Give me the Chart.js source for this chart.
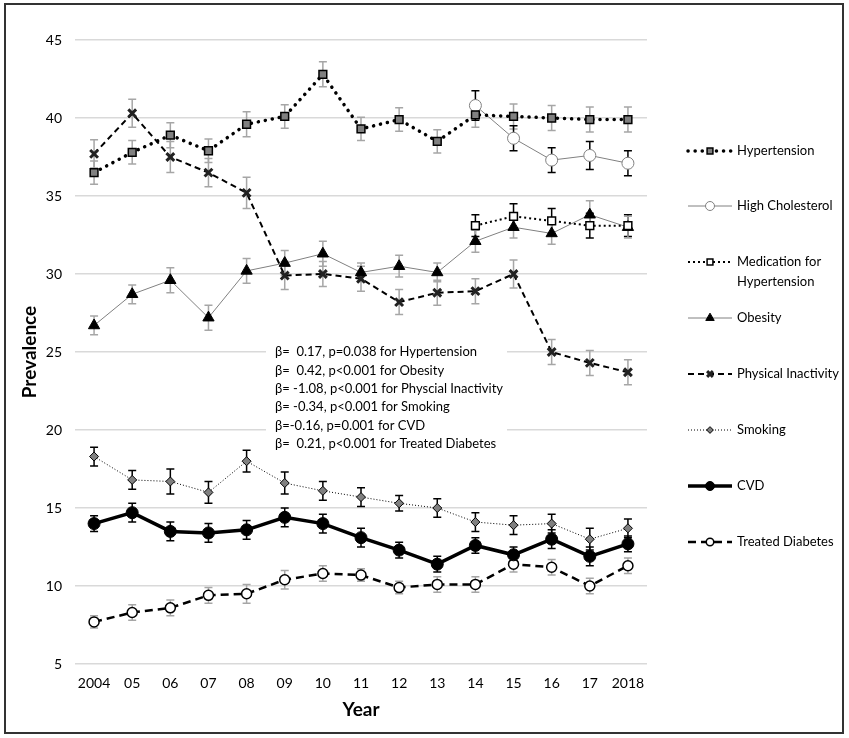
<!DOCTYPE html>
<html>
<head>
<meta charset="utf-8">
<script src="https://cdn.jsdelivr.net/npm/chart.js@4.4.1/dist/chart.umd.min.js"></script>
<style>
  html, body { margin: 0; padding: 0; background: #fff; }
  #wrap { width: 849px; height: 738px; position: relative; }
</style>
</head>
<body>
<div id="wrap"><canvas id="prevChart" width="849" height="738"></canvas></div>
<script>
// datos
const years = ['2004', '05', '06', '07', '08', '09', '10', '11', '12', '13', '14', '15', '16', '17', '2018'];
const yTicks = [5, 10, 15, 20, 25, 30, 35, 40, 45];

const hypertension    = [36.5, 37.8, 38.9, 37.9, 39.6, 40.1, 42.8, 39.3, 39.9, 38.5, 40.2, 40.1, 40.0, 39.9, 39.9];
const hypertensionErr = [0.75, 0.75, 0.8, 0.75, 0.8, 0.75, 0.8, 0.75, 0.75, 0.75, 0.8, 0.8, 0.8, 0.8, 0.8];
const cholesterol     = [null, null, null, null, null, null, null, null, null, null, 40.8, 38.7, 37.3, 37.6, 37.1];
const cholesterolErr  = [null, null, null, null, null, null, null, null, null, null, 0.95, 0.8, 0.8, 0.9, 0.8];
const medication      = [null, null, null, null, null, null, null, null, null, null, 33.1, 33.7, 33.4, 33.1, 33.1];
const medicationErr   = [null, null, null, null, null, null, null, null, null, null, 0.7, 0.8, 0.8, 0.8, 0.7];
const obesity         = [26.7, 28.7, 29.6, 27.2, 30.2, 30.7, 31.3, 30.1, 30.5, 30.1, 32.1, 33.0, 32.6, 33.8, 33.0];
const obesityErr      = [0.6, 0.6, 0.8, 0.8, 0.8, 0.8, 0.8, 0.6, 0.7, 0.6, 0.7, 0.7, 0.7, 0.9, 0.7];
const inactivity      = [37.7, 40.3, 37.5, 36.5, 35.2, 29.9, 30.0, 29.7, 28.2, 28.8, 28.9, 30.0, 25.0, 24.3, 23.7];
const inactivityErr   = [0.9, 0.9, 1.0, 0.9, 1.0, 0.9, 0.8, 0.8, 0.8, 0.8, 0.8, 0.9, 0.8, 0.8, 0.8];
const smoking         = [18.3, 16.8, 16.7, 16.0, 18.0, 16.6, 16.1, 15.7, 15.3, 15.0, 14.1, 13.9, 14.0, 13.0, 13.7];
const smokingErr      = [0.6, 0.6, 0.8, 0.7, 0.7, 0.7, 0.6, 0.6, 0.5, 0.6, 0.6, 0.6, 0.6, 0.7, 0.6];
const cvd             = [14.0, 14.7, 13.5, 13.4, 13.6, 14.4, 14.0, 13.1, 12.3, 11.4, 12.6, 12.0, 13.0, 11.9, 12.7];
const cvdErr          = [0.5, 0.6, 0.6, 0.6, 0.6, 0.6, 0.6, 0.6, 0.5, 0.5, 0.5, 0.5, 0.6, 0.6, 0.5];
const diabetes        = [7.7, 8.3, 8.6, 9.4, 9.5, 10.4, 10.8, 10.7, 9.9, 10.1, 10.1, 11.4, 11.2, 10.0, 11.3];
const diabetesErr     = [0.4, 0.5, 0.5, 0.5, 0.6, 0.6, 0.5, 0.4, 0.4, 0.5, 0.5, 0.5, 0.5, 0.5, 0.5];

const statsText = [
    'β=  0.17, p=0.038 for Hypertension',
    'β=  0.42, p<0.001 for Obesity',
    'β= -1.08, p<0.001 for Physcial Inactivity',
    'β= -0.34, p<0.001 for Smoking',
    'β=-0.16, p=0.001 for CVD',
    'β=  0.21, p<0.001 for Treated Diabetes'
];

const FONT = 'Lato, "Open Sans", sans-serif';

// barras de error
const errorBars = {
    id: 'errorBars',
    beforeDatasetsDraw(chart) {
        const ctx = chart.ctx;
        const y = chart.scales.y;
        chart.data.datasets.forEach((ds, di) => {
            const meta = chart.getDatasetMeta(di);
            ds.data.forEach((v, i) => {
                if (v === null || !ds.errors || ds.errors[i] == null) return;
                const x = meta.data[i].x;
                const top = y.getPixelForValue(v + ds.errors[i]);
                const bot = y.getPixelForValue(v - ds.errors[i]);
                ctx.save();
                ctx.strokeStyle = ds.errColor;
                ctx.lineWidth = 1.5;
                ctx.beginPath();
                ctx.moveTo(x, top); ctx.lineTo(x, bot);
                ctx.moveTo(x - 4, top); ctx.lineTo(x + 4, top);
                ctx.moveTo(x - 4, bot); ctx.lineTo(x + 4, bot);
                ctx.stroke();
                ctx.restore();
            });
        });
    }
};

// cuadro con los coeficientes
const statsBox = {
    id: 'statsBox',
    beforeDatasetsDraw(chart) {
        const ctx = chart.ctx;
        ctx.save();
        ctx.fillStyle = '#fff';
        ctx.fillRect(266, 341, 241, 113);
        ctx.fillStyle = '#000';
        ctx.font = '13px ' + FONT;
        ctx.textBaseline = 'middle';
        statsText.forEach((t, i) => ctx.fillText(t, 275, 352 + i * 18.4));
        ctx.restore();
    }
};

// leyenda a la derecha
const sideLegend = {
    id: 'sideLegend',
    afterDraw(chart) {
        const ctx = chart.ctx;
        const rows = [151, 206, 262, 318, 374, 430, 486, 542];
        chart.data.datasets.forEach((ds, i) => {
            const yy = rows[i];
            ctx.save();
            ctx.strokeStyle = ds.borderColor;
            ctx.lineWidth = ds.borderWidth;
            ctx.lineCap = ds.borderCapStyle || 'butt';
            ctx.setLineDash(ds.borderDash || []);
            ctx.beginPath();
            ctx.moveTo(688, yy); ctx.lineTo(732, yy);
            ctx.stroke();
            ctx.restore();
            ctx.save();
            ctx.fillStyle = ds.pointBackgroundColor;
            ctx.strokeStyle = ds.pointBorderColor;
            ctx.lineWidth = ds.pointBorderWidth;
            Chart.helpers.drawPoint(ctx, {
                pointStyle: ds.pointStyle,
                radius: ds.pointRadius * 0.75,
                rotation: 0,
                borderWidth: ds.pointBorderWidth
            }, 710, yy);
            ctx.restore();
            ctx.save();
            ctx.fillStyle = '#000';
            ctx.font = '13px ' + FONT;
            ctx.textBaseline = 'middle';
            const lines = Array.isArray(ds.label) ? ds.label : [ds.label];
            lines.forEach((t, k) => ctx.fillText(t, 737, yy + k * 20));
            ctx.restore();
        });
        // marco
        ctx.save();
        ctx.strokeStyle = '#333';
        ctx.lineWidth = 2;
        ctx.strokeRect(5, 4, 838, 729);
        ctx.restore();
    }
};

new Chart(document.getElementById('prevChart').getContext('2d'), {
    type: 'line',
    data: {
        labels: years,
        datasets: [
            {
                label: 'Hypertension', data: hypertension, errors: hypertensionErr, errColor: '#a6a6a6',
                borderColor: '#000', borderWidth: 3.5, borderDash: [0.1, 7], borderCapStyle: 'round',
                pointStyle: 'rect', pointRadius: 5.5, pointBackgroundColor: '#808080',
                pointBorderColor: '#000', pointBorderWidth: 1.5
            },
            {
                label: 'High Cholesterol', data: cholesterol, errors: cholesterolErr, errColor: '#000',
                borderColor: '#808080', borderWidth: 1,
                pointStyle: 'circle', pointRadius: 6, pointBackgroundColor: '#fff',
                pointBorderColor: '#808080', pointBorderWidth: 1
            },
            {
                label: ['Medication for', 'Hypertension'], data: medication, errors: medicationErr, errColor: '#000',
                borderColor: '#000', borderWidth: 2, borderDash: [2, 3],
                pointStyle: 'rect', pointRadius: 5.5, pointBackgroundColor: '#fff',
                pointBorderColor: '#000', pointBorderWidth: 1.5
            },
            {
                label: 'Obesity', data: obesity, errors: obesityErr, errColor: '#a6a6a6',
                borderColor: '#808080', borderWidth: 1,
                pointStyle: 'triangle', pointRadius: 6.5, pointBackgroundColor: '#000',
                pointBorderColor: '#000', pointBorderWidth: 1
            },
            {
                label: 'Physical Inactivity', data: inactivity, errors: inactivityErr, errColor: '#a6a6a6',
                borderColor: '#000', borderWidth: 2, borderDash: [6, 4],
                pointStyle: 'crossRot', pointRadius: 5.5, pointBackgroundColor: '#000',
                pointBorderColor: '#222', pointBorderWidth: 3
            },
            {
                label: 'Smoking', data: smoking, errors: smokingErr, errColor: '#000',
                borderColor: '#000', borderWidth: 1, borderDash: [1, 2],
                pointStyle: 'rectRot', pointRadius: 4.5, pointBackgroundColor: '#808080',
                pointBorderColor: '#000', pointBorderWidth: 1
            },
            {
                label: 'CVD', data: cvd, errors: cvdErr, errColor: '#000',
                borderColor: '#000', borderWidth: 3.5,
                pointStyle: 'circle', pointRadius: 6, pointBackgroundColor: '#000',
                pointBorderColor: '#000', pointBorderWidth: 1
            },
            {
                label: 'Treated Diabetes', data: diabetes, errors: diabetesErr, errColor: '#a6a6a6',
                borderColor: '#000', borderWidth: 2.5, borderDash: [8, 5],
                pointStyle: 'circle', pointRadius: 5, pointBackgroundColor: '#fff',
                pointBorderColor: '#000', pointBorderWidth: 1.5
            }
        ]
    },
    options: {
        responsive: false,
        animation: false,
        layout: { padding: { top: 40, right: 202, left: 0, bottom: 0 } },
        plugins: {
            legend: { display: false },
            tooltip: { enabled: false }
        },
        elements: { line: { tension: 0 } },
        scales: {
            x: {
                offset: true,
                grid: { display: false, drawTicks: false },
                border: { display: false },
                ticks: { color: '#000', font: { family: FONT, size: 14 }, padding: 11, maxRotation: 0, autoSkip: false },
                title: { display: true, text: 'Year', color: '#000', font: { family: FONT, size: 19, weight: 'bold' }, padding: { top: 4, bottom: 17 } },
                afterFit(scale) { scale.height = 74; }
            },
            y: {
                min: 5, max: 45,
                afterBuildTicks(scale) { scale.ticks = yTicks.map(v => ({ value: v })); },
                grid: { color: '#d9d9d9', lineWidth: 1.5, drawTicks: false },
                border: { display: false },
                ticks: { color: '#000', font: { family: FONT, size: 14 }, padding: 13 },
                title: { display: true, text: 'Prevalence', color: '#000', font: { family: FONT, size: 19, weight: 'bold' }, padding: { top: 18, bottom: 4 } },
                afterFit(scale) { scale.width = 75; }
            }
        }
    },
    plugins: [statsBox, errorBars, sideLegend]
});
</script>
</body>
</html>
